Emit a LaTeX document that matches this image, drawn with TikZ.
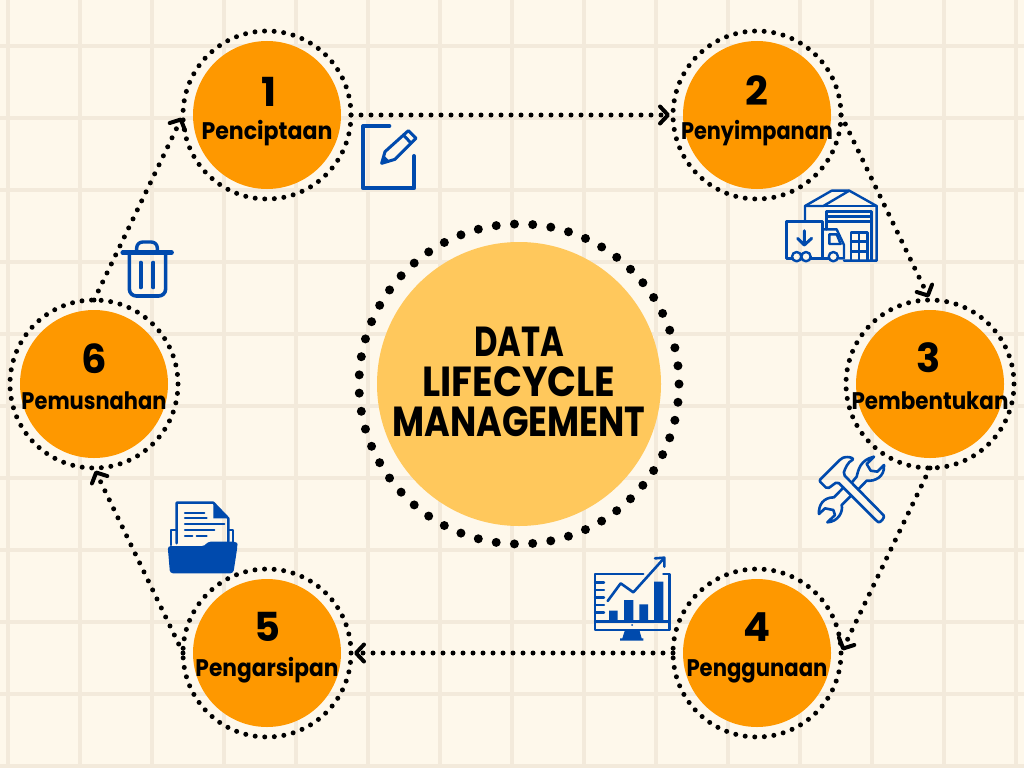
\documentclass[tikz,border=0pt]{standalone}
\usepackage{fontspec}
\usepackage{graphicx}
\setmainfont{Poppins}
\usetikzlibrary{arrows.meta}
\definecolor{paper}{HTML}{FEF8EB}
\definecolor{gridc}{HTML}{F3EADB}
\definecolor{orangec}{HTML}{FE9800}
\definecolor{centerc}{HTML}{FFC85C}
\definecolor{iconc}{HTML}{004AAD}
\newcommand{\fitw}[2]{\resizebox{#1pt}{\height}{#2}}
\tikzset{
  gridline/.style={gridc,line width=3.4pt},
  disc/.style={circle,fill=orangec,minimum size=148pt,inner sep=0pt,outer sep=0pt},
  ringa/.style={circle,draw=black,minimum size=168pt,inner sep=0pt,outer sep=0pt,line width=5pt,line cap=round,dash pattern=on 0pt off 9.6pt},
  flow/.style={draw=black,line width=5pt,line cap=round,dash pattern=on 0pt off 10pt,shorten >=3pt,-{Straight Barb[length=8pt,width=17pt,line width=4pt,round]}},
  numtext/.style={font=\fontsize{40}{40}\selectfont\bfseries,inner sep=0pt,text=black},
  labtext/.style={font=\fontsize{24}{24}\selectfont\bfseries,inner sep=0pt,text=black},
  titletext/.style={font=\fontsize{42}{42}\selectfont\bfseries,inner sep=0pt,text=black},
  ico/.style={draw=iconc,line width=#1,line join=round,line cap=round},
  ico/.default=3pt
}
\begin{document}
\begin{tikzpicture}[x=1pt,y=-1pt]
\useasboundingbox (0,0) rectangle (1024,768);
\fill[paper] (0,0) rectangle (1024,768);
\foreach \gx in {8,80,...,1016} \draw[gridline] (\gx,0) -- (\gx,768);
\foreach \gy in {46,118,...,766} \draw[gridline] (0,\gy) -- (1024,\gy);

% centre
\node[circle,fill=centerc,minimum size=284pt,inner sep=0pt] (core) at (519,384) {};
\node[circle,draw=black,minimum size=320pt,inner sep=0pt,line width=9pt,line cap=round,dash pattern=on 0pt off 18.28pt] (corering) at (519,384) {};
\node[titletext] (t1) at (519,342) {\fitw{90}{DATA}};
\node[titletext] (t2) at (519,382) {\fitw{193}{LIFECYCLE}};
\node[titletext] (t3) at (519,422) {\fitw{253}{MANAGEMENT}};

% stage discs and rings
\node[disc] (d1) at (267,115) {}; \node[ringa] (r1) at (267,115) {};
\node[disc] (d2) at (757,115) {}; \node[ringa] (r2) at (757,115) {};
\node[disc] (d3) at (930,384) {}; \node[ringa] (r3) at (930,384) {};
\node[disc] (d4) at (757,653) {}; \node[ringa] (r4) at (757,653) {};
\node[disc] (d5) at (267,653) {}; \node[ringa] (r5) at (267,653) {};
\node[disc] (d6) at (94,384) {};  \node[ringa] (r6) at (94,384) {};

% connectors
\draw[flow] (r1.0) -- (r2.180);
\draw[flow] (r2.0) -- (r3.90);
\draw[flow] (r3.270) -- (r4.0);
\draw[flow] (r4.180) -- (r5.0);
\draw[flow] (r5.180) -- (r6.270);
\draw[flow] (r6.90) -- (r1.180);

% texts
\node[numtext] (n1) at (269,92) {1};
\node[labtext] (l1) at (267,133) {\fitw{131}{Penciptaan}};
\node[numtext] (n2) at (757,91) {2};
\node[labtext] (l2) at (757,133) {\fitw{152}{Penyimpanan}};
\node[numtext] (n3) at (929,358) {3};
\node[labtext] (l3) at (930,401) {\fitw{157}{Pembentukan}};
\node[numtext] (n4) at (757,627) {4};
\node[labtext] (l4) at (757,671) {\fitw{141}{Penggunaan}};
\node[numtext] (n5) at (267,627) {5};
\node[labtext] (l5) at (267,670) {\fitw{143}{Pengarsipan}};
\node[numtext] (n6) at (94,359) {6};
\node[labtext] (l6) at (94,401) {\fitw{145}{Pemusnahan}};

% edit icon
\begin{scope}[shift={(340,100)},x=0.3333pt,y=-0.3333pt]
\draw[ico=4pt] (148,78) -- (70,78) -- (70,265) -- (222,265) -- (222,168);
\draw[ico=3pt] (125,190) -- (135,155) -- (205,92) -- (228,115) -- (165,178) -- cycle;
\draw[ico=3pt] (190,105) -- (212,128);
\fill[iconc] (125,190) -- (131,165) -- (150,184) -- cycle;
\end{scope}

% warehouse and truck icon
\begin{scope}[shift={(770,170)},x=0.3333pt,y=-0.3333pt]
\draw[ico=2.4pt] (105,155) -- (105,108) -- (185,62) -- (238,62) -- (320,108) -- (320,272) -- (222,272);
\draw[ico=2.4pt] (105,108) -- (160,108) -- (238,62);
\draw[ico=2.4pt] (160,108) -- (320,108);
\draw[ico=2.4pt] (170,178) -- (170,125) -- (305,125) -- (305,272);
\draw[ico=2.4pt] (170,140) -- (305,140) (170,155) -- (305,155);
\draw[ico=2.4pt] (243,272) -- (243,187) -- (292,187) -- (292,272);
\draw[ico=2.4pt] (267,187) -- (267,272) (243,215) -- (292,215) (243,245) -- (292,245);
\draw[ico=2.4pt] (65,265) -- (50,265) -- (50,155) -- (158,155) -- (158,265);
\draw[ico=3pt] (103,182) -- (103,225) (83,205) -- (103,225) -- (125,205);
\draw[ico=2.4pt] (158,178) -- (200,178) -- (222,225) -- (222,265) -- (205,265);
\draw[ico=2.4pt] (178,193) -- (200,193) -- (212,222) -- (178,222) -- cycle;
\draw[ico=2.4pt] (122,265) -- (176,265);
\draw[ico=2.4pt] (80,260) circle[radius=14] (108,260) circle[radius=14] (190,260) circle[radius=14];
\end{scope}

% tools icon
\begin{scope}[shift={(800,440)},x=0.3333pt,y=-0.3333pt]
\draw[ico=2.6pt,rounded corners=2pt] (57,122) -- (122,57) .. controls (135,50) and (150,50) .. (162,58) .. controls (145,65) and (135,85) .. (130,103) -- (247,222) .. controls (256,232) and (240,250) .. (230,243) -- (112,125) -- (82,147) -- cycle;
\draw[ico=2.6pt] (155,128) -- (170,110) .. controls (175,90) and (180,60) .. (222,50) -- (200,72) -- (212,92) -- (232,95) -- (252,75) .. controls (255,110) and (225,125) .. (200,122) -- (175,148);
\draw[ico=2.6pt] (130,143) -- (102,172) .. controls (70,172) and (55,195) .. (57,222) -- (75,205) -- (100,210) -- (105,225) -- (82,247) .. controls (115,245) and (130,215) .. (125,195) -- (153,167);
\end{scope}

% chart icon
\begin{scope}[shift={(580,545)},x=0.3333pt,y=-0.3333pt]
\draw[ico=2.4pt] (190,87) -- (45,87) -- (45,255) -- (268,255) -- (268,87) -- (250,87);
\draw[ico=2.4pt] (45,230) -- (268,230);
\draw[ico=2.4pt] (45,112) -- (72,112) (45,135) -- (72,135) (45,158) -- (72,158) (45,180) -- (72,180) (45,203) -- (72,203);
\draw[ico=2.6pt] (83,168) -- (122,115) -- (160,142) -- (250,42);
\draw[ico=2.6pt] (225,40) -- (253,38) -- (253,65);
\fill[iconc] (87,197) rectangle (113,225) (132,165) rectangle (160,225) (178,178) rectangle (204,225) (222,110) rectangle (250,225);
\fill[iconc] (156,240) circle[radius=3];
\fill[iconc] (135,255) -- (178,255) -- (185,280) -- (190,280) -- (190,287) -- (120,287) -- (120,280) -- (127,280) -- cycle;
\end{scope}

% folder icon
\begin{scope}[shift={(155,490)},x=0.3333pt,y=-0.3333pt]
\draw[ico=2.4pt] (65,160) -- (65,38) -- (175,38) -- (220,85) -- (220,155);
\fill[iconc] (175,38) -- (220,85) -- (175,85) -- cycle;
\draw[ico=2.2pt] (90,70) -- (148,70) (90,85) -- (155,85) (90,103) -- (208,103) (90,121) -- (178,121) (90,139) -- (112,139) (125,139) -- (155,139);
\draw[ico=2.2pt] (65,120) -- (48,120) -- (48,165);
\draw[ico=2.2pt] (220,120) -- (233,120) -- (233,155);
\fill[iconc,rounded corners=3pt] (38,168) -- (150,168) -- (158,155) -- (245,155) -- (248,165) -- (235,250) -- (45,250) -- cycle;
\end{scope}

% bin icon
\begin{scope}[shift={(100,230)},x=0.3333pt,y=-0.3333pt]
\draw[ico=4.4pt] (68,68) -- (215,68);
\draw[ico=3.4pt,rounded corners=6pt] (110,68) -- (110,36) -- (172,36) -- (172,68);
\draw[ico=3.6pt,rounded corners=7pt] (88,68) -- (88,198) -- (197,198) -- (197,68);
\draw[ico=4pt] (122,98) -- (122,172) (160,98) -- (160,172);
\end{scope}
\end{tikzpicture}
\end{document}
